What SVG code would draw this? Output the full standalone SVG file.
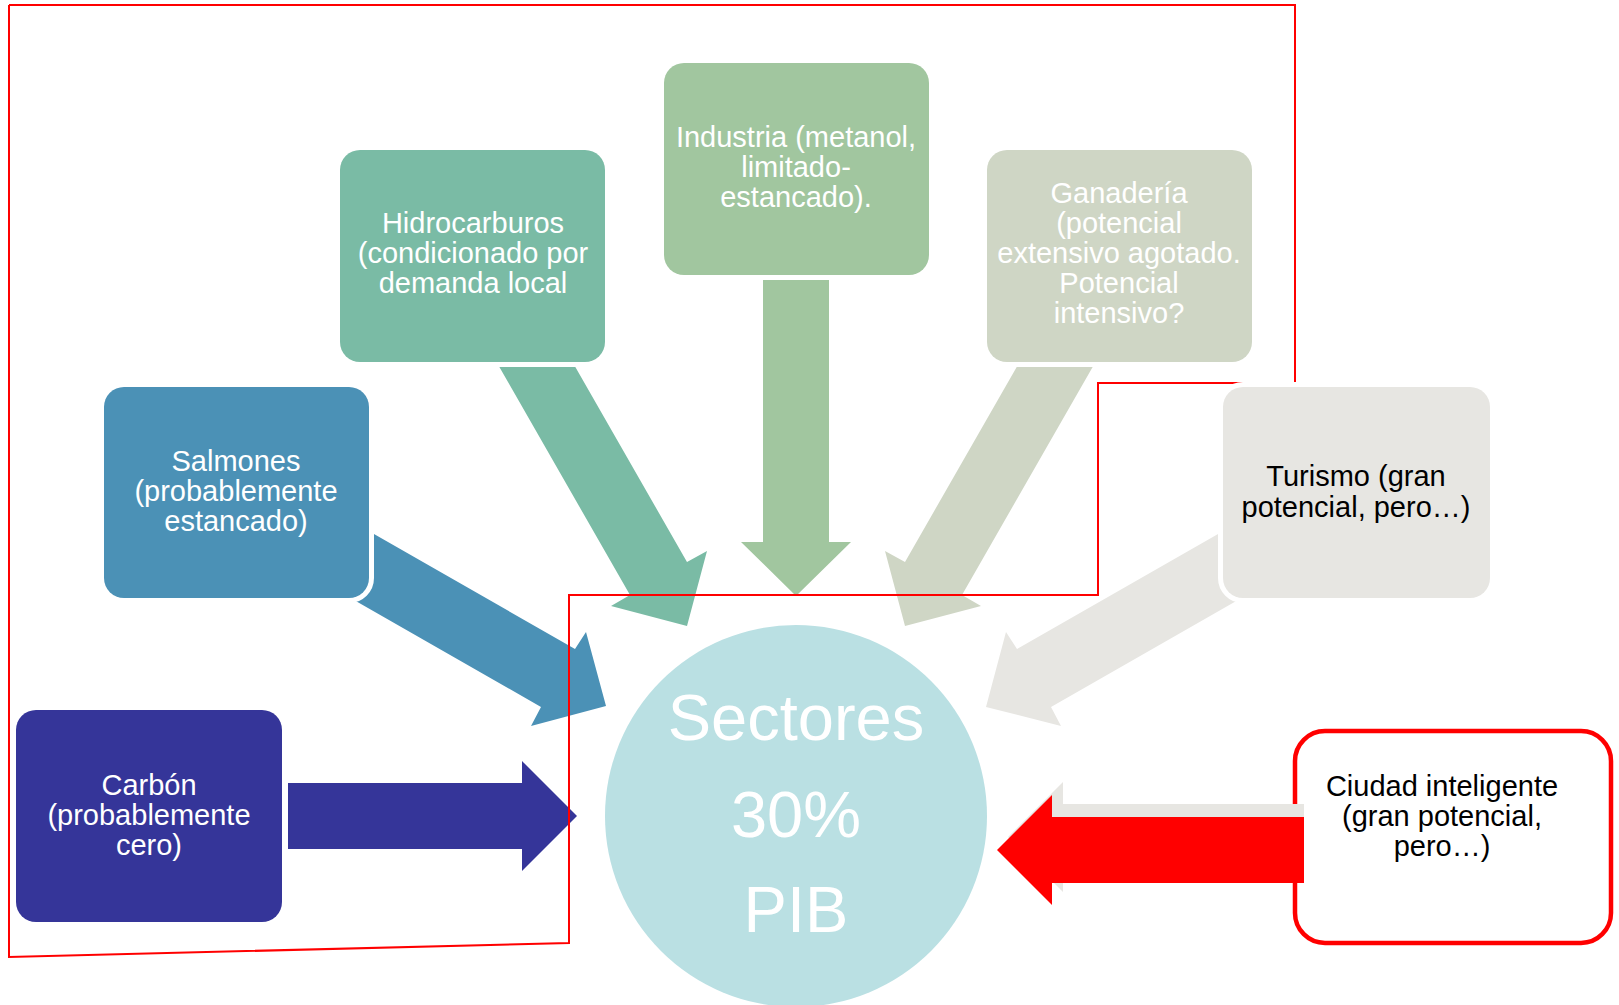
<svg xmlns="http://www.w3.org/2000/svg" width="1619" height="1005" viewBox="0 0 1619 1005">
<style>
.box{stroke:#FFFFFF;stroke-width:10;paint-order:stroke}
.t{font-family:"Liberation Sans",Arial,sans-serif;font-size:29px;text-anchor:middle;fill:#FFFFFF}
.dark{fill:#000000}
.big{font-family:"Liberation Sans",Arial,sans-serif;font-size:65px;text-anchor:middle;fill:#FFFFFF}
</style>
<rect x="0" y="0" width="1619" height="1005" fill="#FFFFFF"/>
<g id="node-ciudad">
<rect x="1295" y="731" width="316" height="212" rx="30" fill="#FFFFFF" stroke="#FF0000" stroke-width="4.5"/>
<text class="t dark" x="1442" y="796">Ciudad inteligente</text>
<text class="t dark" x="1442" y="826">(gran potencial,</text>
<text class="t dark" x="1442" y="856">pero…)</text>
</g>
<g id="connectors">
<polygon fill="#353599" points="288,783 522,783 522,761 577,816 522,871 522,849 288,849"/>
<polygon fill="#4B91B6" points="332,510 575,649 586,632 606,706 531,726 541,707 333,588"/>
<polygon fill="#7ABBA5" points="481,335 557,335 687,562 707,551 687,626 611,606 630,595"/>
<polygon fill="#A1C69F" points="763,270 829,270 829,542 851,542 796,596 741,542 763,542"/>
<polygon fill="#CFD6C5" points="1111,335 1035,335 905,562 885,551 905,626 981,606 962,595"/>
<polygon fill="#E7E6E2" points="1260,510 1017,649 1006,632 986,707 1061,726 1051,707 1259,588"/>
<polygon fill="#E7E6E2" points="1304,804 1063,804 1063,782 1008,837 1063,892 1063,870 1304,870"/>
<polygon fill="#FF0000" points="1304,817 1052,817 1052,795 997,850 1052,905 1052,883 1304,883"/>
</g>
<g id="frame">
<polyline fill="none" stroke="#FF0000" stroke-width="2" points="9,5 1295,5 1295,383 1098,383 1098,595 569,595 569,943 9,957 9,5"/>
</g>
<g id="node-sectores">
<circle cx="796" cy="816" r="191" fill="#BAE0E3"/>
<text class="big" x="796" y="740">Sectores</text>
<text class="big" x="796" y="837">30%</text>
<text class="big" x="796" y="932">PIB</text>
</g>
<g id="node-carbon">
<rect class="box" x="16" y="710" width="266" height="212" rx="20" fill="#353599"/>
<text class="t" x="149" y="795">Carbón</text>
<text class="t" x="149" y="825">(probablemente</text>
<text class="t" x="149" y="855">cero)</text>
</g>
<g id="node-salmones">
<rect class="box" x="104" y="387" width="265" height="211" rx="20" fill="#4B91B6"/>
<text class="t" x="236" y="471">Salmones</text>
<text class="t" x="236" y="501">(probablemente</text>
<text class="t" x="236" y="531">estancado)</text>
</g>
<g id="node-hidrocarburos">
<rect class="box" x="340" y="150" width="265" height="212" rx="20" fill="#7ABBA5"/>
<text class="t" x="473" y="233">Hidrocarburos</text>
<text class="t" x="473" y="263">(condicionado por</text>
<text class="t" x="473" y="293">demanda local</text>
</g>
<g id="node-industria">
<rect class="box" x="664" y="63" width="265" height="212" rx="20" fill="#A1C69F"/>
<text class="t" x="796" y="147">Industria (metanol,</text>
<text class="t" x="796" y="177">limitado-</text>
<text class="t" x="796" y="207">estancado).</text>
</g>
<g id="node-ganaderia">
<rect class="box" x="987" y="150" width="265" height="212" rx="20" fill="#CFD6C5"/>
<text class="t" x="1119" y="203">Ganadería</text>
<text class="t" x="1119" y="233">(potencial</text>
<text class="t" x="1119" y="263">extensivo agotado.</text>
<text class="t" x="1119" y="293">Potencial</text>
<text class="t" x="1119" y="323">intensivo?</text>
</g>
<g id="node-turismo">
<rect class="box" x="1223" y="387" width="267" height="211" rx="20" fill="#E7E6E2"/>
<text class="t dark" x="1356" y="486">Turismo (gran</text>
<text class="t dark" x="1356" y="517">potencial, pero…)</text>
</g>
</svg>
